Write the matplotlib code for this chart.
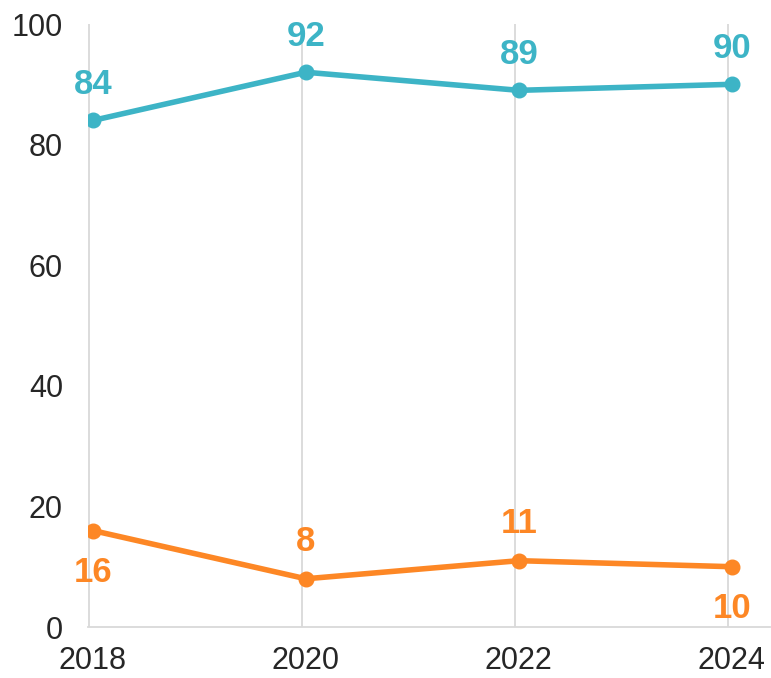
import numpy as np
import matplotlib.pyplot as plt

plt.rcParams['font.family'] = ['Liberation Sans', 'DejaVu Sans']

years = ['2018', '2020', '2022', '2024']
teal_vals = [84, 92, 89, 90]
orange_vals = [16, 8, 11, 10]
# label above (+1) or below (-1) the point
orange_side = [-1, 1, 1, -1]

teal = '#3db4c6'
orange = '#fd8725'
grid_col = '#d9d9d9'

x = np.arange(len(years))

fig = plt.figure(figsize=(7.71, 6.78), dpi=100)
ax = fig.add_axes([0.114, 0.0752, 0.885, 0.8894])

for xi in x:
    ax.axvline(xi - 0.02, color=grid_col, lw=1.3, zorder=0)

ax.plot(x, teal_vals, color=teal, lw=4, marker='o', ms=10.5, solid_capstyle='round')
ax.plot(x, orange_vals, color=orange, lw=4, marker='o', ms=10.5, solid_capstyle='round')

for xi, v in zip(x, teal_vals):
    ax.annotate(str(v), (xi, v), xytext=(0, 26), textcoords='offset points',
                ha='center', va='center', fontsize=25, fontweight='bold', color=teal)
for xi, v, s in zip(x, orange_vals, orange_side):
    off = 30 if s < 0 else 27
    ax.annotate(str(v), (xi, v), xytext=(0, off * s), textcoords='offset points',
                ha='center', va='center', fontsize=25, fontweight='bold', color=orange)

ax.set_xlim(-0.023, 3.18)
ax.set_ylim(0, 100)
ax.set_yticks([0, 20, 40, 60, 80, 100])
ax.set_xticks(x)
ax.set_xticklabels(years)

for side in ['top', 'right']:
    ax.spines[side].set_visible(False)
ax.spines['left'].set_visible(False)
ax.spines['bottom'].set_color(grid_col)
ax.spines['bottom'].set_linewidth(1.3)

ax.tick_params(axis='both', length=0, labelsize=22, labelcolor='#262626')
ax.tick_params(axis='y', pad=18)
ax.tick_params(axis='x', pad=14)

fig.savefig('out.png', dpi=100)
